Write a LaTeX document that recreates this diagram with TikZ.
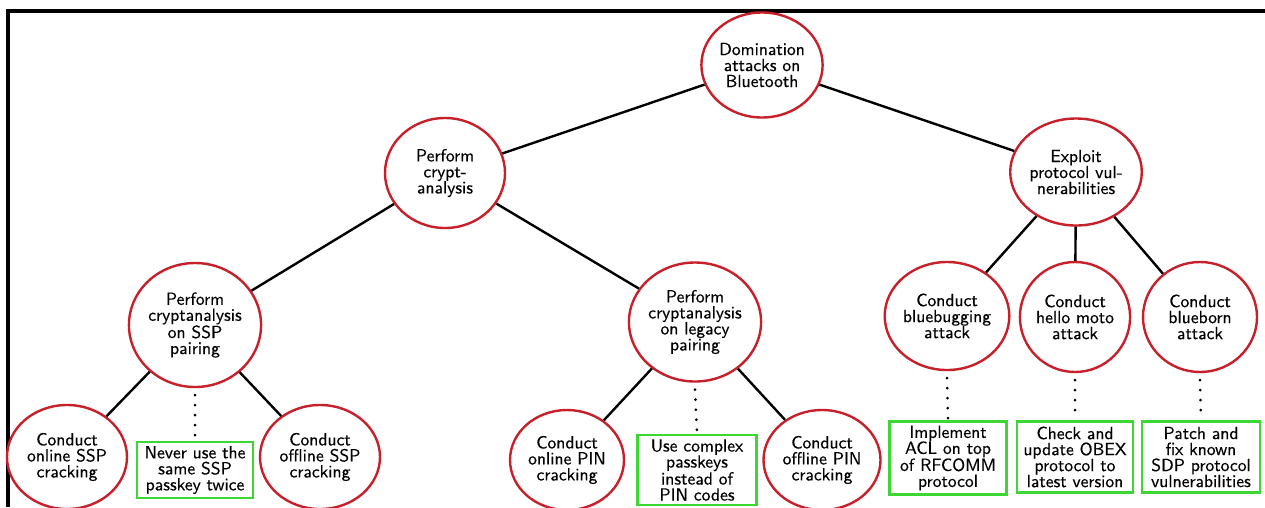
\documentclass[tikz,border=0pt]{standalone}
\usepackage{fontspec}
\usetikzlibrary{shapes.geometric}
\newfontfamily\labelfont{lmsans10-regular.otf}[FakeBold=0.4]
\definecolor{nodered}{RGB}{200,32,42}
\definecolor{boxgreen}{RGB}{60,215,50}
\begin{document}
\begin{tikzpicture}[x=1pt,y=-1pt,
  every node/.style={font=\labelfont\fontsize{17.6}{16}\selectfont, align=center, inner sep=0pt},
  goal/.style={ellipse, draw=nodered, line width=2.4pt, fill=white},
  fix/.style={rectangle, draw=boxgreen, line width=2.8pt, fill=white},
  link/.style={line width=2.4pt, black},
  dots/.style={line width=3pt, line cap=round, dash pattern=on 0pt off 10pt, black}]
\useasboundingbox (0,0) rectangle (1265,507);
% frame
\draw[line width=3.5pt] (8,507) -- (8,11) -- (1265,11);

% root and middle tier
\node[goal, minimum width=120, minimum height=105] (root) at (762,65) {Domination\\attacks on\\Bluetooth};
\node[goal, minimum width=120, minimum height=110] (crypt) at (445,173) {Perform\\crypt-\\analysis};
\node[goal, minimum width=118, minimum height=107] (exploit) at (1076,172) {Exploit\\protocol vul-\\nerabilities};

% third tier
\node[goal, minimum width=130, minimum height=124] (ssp) at (195,325) {Perform\\cryptanalysis\\on SSP\\pairing};
\node[goal, minimum width=126, minimum height=119] (legacy) at (695,322) {Perform\\cryptanalysis\\on legacy\\pairing};
\node[goal, minimum width=110, minimum height=108] (bug) at (947,316) {Conduct\\bluebugging\\attack};
\node[goal, minimum width=108, minimum height=110] (moto) at (1075,317) {Conduct\\hello moto\\attack};
\node[goal, minimum width=114, minimum height=110] (born) at (1200,317) {Conduct\\blueborn\\attack};

% leaves
\node[goal, minimum width=120, minimum height=104] (onssp) at (67,457) {Conduct\\online SSP\\cracking};
\node[goal, minimum width=120, minimum height=104] (offssp) at (320,457) {Conduct\\offline SSP\\cracking};
\node[goal, minimum width=114, minimum height=100] (onpin) at (567,460) {Conduct\\online PIN\\cracking};
\node[goal, minimum width=117, minimum height=100] (offpin) at (822,460) {Conduct\\offline PIN\\cracking};

% countermeasures
\node[fix, minimum width=116, minimum height=56] (fssp) at (195,470) {Never use the\\same SSP\\passkey twice};
\node[fix, minimum width=119, minimum height=70] (fpin) at (697,470) {Use complex\\passkeys\\instead of\\PIN codes};
\node[fix, minimum width=117, minimum height=73] (fbug) at (948,458) {Implement\\ACL on top\\of RFCOMM\\protocol};
\node[fix, minimum width=116, minimum height=71] (fmoto) at (1075,457) {Check and\\update OBEX\\protocol to\\latest version};
\node[fix, minimum width=118, minimum height=71] (fborn) at (1201,457) {Patch and\\fix known\\SDP protocol\\vulnerabilities};

% tree edges
\draw[link] (root) -- (crypt);
\draw[link] (root) -- (exploit);
\draw[link] (crypt) -- (ssp);
\draw[link] (crypt) -- (legacy);
\draw[link] (ssp) -- (onssp);
\draw[link] (ssp) -- (offssp);
\draw[link] (legacy) -- (onpin);
\draw[link] (legacy) -- (offpin);
\draw[link] (exploit) -- (bug);
\draw[link] (exploit) -- (moto);
\draw[link] (exploit) -- (born);

% countermeasure links
\draw[dots] (ssp.south) ++(0,7) -- (fssp.north);
\draw[dots] (legacy.south) ++(0,7) -- (fpin.north);
\draw[dots] (bug.south) ++(0,7) -- (fbug.north);
\draw[dots] (moto.south) ++(0,7) -- (fmoto.north);
\draw[dots] (born.south) ++(0,7) -- (fborn.north);
\end{tikzpicture}
\end{document}
